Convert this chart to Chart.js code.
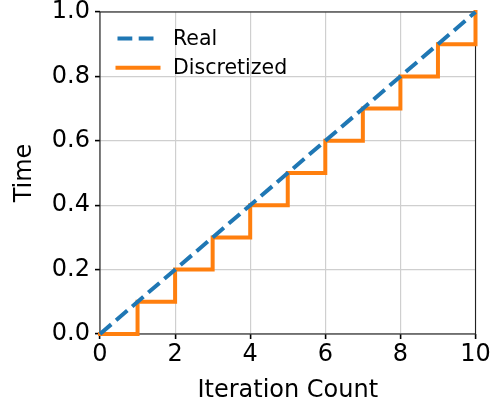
<!DOCTYPE html>
<html><head><meta charset="utf-8">
<script src="https://cdn.jsdelivr.net/npm/chart.js@4.4.0/dist/chart.umd.min.js"></script>
<style>html,body{margin:0;padding:0;background:#fff;overflow:hidden}canvas{display:block}</style>
</head><body><canvas id="c" width="490" height="409"></canvas>
<script>
const realX = [0, 10];
const realY = [0, 1];
const discX = [0, 1, 2, 3, 4, 5, 6, 7, 8, 9, 10];
const discY = [0, 0.1, 0.2, 0.3, 0.4, 0.5, 0.6, 0.7, 0.8, 0.9, 1.0];
const xTicks = [0, 2, 4, 6, 8, 10];
const yTicks = [0, 0.2, 0.4, 0.6, 0.8, 1.0];
const seriesNames = ['Real', 'Discretized'];
const xTitle = 'Iteration Count';
const yTitle = 'Time';

const FONT = 'DejaVu Sans';
const BLUE = '#1f77b4', ORANGE = '#ff7f0e';

const toPts = (xs, ys) => xs.map((x, i) => ({x: x, y: ys[i]}));

const bgPlugin = {
  id: 'bg',
  beforeDraw(chart) {
    const c = chart.ctx;
    c.save(); c.fillStyle = '#fff'; c.fillRect(0, 0, chart.width, chart.height); c.restore();
  }
};

const spinePlugin = {
  id: 'spines',
  beforeDatasetsDraw(chart) {
    const a = chart.chartArea, c = chart.ctx;
    c.save();
    c.strokeStyle = '#222'; c.lineWidth = 1.1;
    c.strokeRect(a.left, a.top, a.right - a.left, a.bottom - a.top);
    c.restore();
  }
};

const legendPlugin = {
  id: 'mplLegend',
  afterDraw(chart) {
    const a = chart.chartArea, c = chart.ctx;
    const rows = [a.top + 26.5, a.top + 55.7];
    c.save();
    chart.data.datasets.forEach((ds, i) => {
      const y = rows[i];
      c.beginPath();
      c.strokeStyle = ds.borderColor;
      c.lineWidth = ds.borderWidth;
      c.setLineDash(ds.borderDash || []);
      c.lineCap = ds.borderDash ? 'butt' : 'square';
      c.moveTo(a.left + 17.5, y);
      c.lineTo(a.left + 58.5, y);
      c.stroke();
      c.setLineDash([]);
      c.fillStyle = '#000';
      c.font = '20.5px "' + FONT + '"';
      c.textAlign = 'left';
      c.textBaseline = 'middle';
      c.fillText(ds.label, a.left + 73, y + 1);
    });
    c.restore();
  }
};

new Chart(document.getElementById('c'), {
  type: 'line',
  data: {
    datasets: [
      {
        label: seriesNames[0],
        data: toPts(realX, realY),
        borderColor: BLUE,
        backgroundColor: BLUE,
        borderWidth: 4,
        borderDash: [14.8, 6.4],
        borderCapStyle: 'butt',
        pointRadius: 0,
        fill: false,
        tension: 0,
        clip: 5
      },
      {
        label: seriesNames[1],
        data: toPts(discX, discY),
        borderColor: ORANGE,
        backgroundColor: ORANGE,
        borderWidth: 4,
        stepped: true,
        borderCapStyle: 'square',
        borderJoinStyle: 'miter',
        pointRadius: 0,
        fill: false,
        clip: 5
      }
    ]
  },
  options: {
    responsive: false,
    devicePixelRatio: 1,
    animation: false,
    events: [],
    layout: {padding: {left: 0, right: 14.5, top: 12, bottom: 0}},
    plugins: {legend: {display: false}, tooltip: {enabled: false}},
    scales: {
      x: {
        type: 'linear',
        min: 0, max: 10,
        afterBuildTicks(s) { s.ticks = xTicks.map(v => ({value: v})); },
        afterFit(s) { s.height = 75; s.paddingLeft = 0; s.paddingRight = 0; s.paddingTop = 0; s.paddingBottom = 0; },
        ticks: {
          color: '#000',
          font: {family: FONT, size: 24, lineHeight: 1},
          padding: 4,
          maxRotation: 0,
          callback: v => String(v)
        },
        grid: {color: '#cfcfcf', lineWidth: 1.2, tickLength: 5, tickColor: '#000', tickWidth: 1.6, drawTicks: true},
        border: {display: false},
        title: {display: true, text: xTitle, color: '#000', font: {family: FONT, size: 24, lineHeight: 1}, padding: {top: 0, bottom: 6}}
      },
      y: {
        type: 'linear',
        min: 0, max: 1,
        afterBuildTicks(s) { s.ticks = yTicks.map(v => ({value: v})); },
        afterFit(s) { s.width = 100; s.paddingLeft = 0; s.paddingRight = 0; s.paddingTop = 0; s.paddingBottom = 0; },
        ticks: {
          color: '#000',
          font: {family: FONT, size: 24, lineHeight: 1},
          padding: 5,
          callback: v => Number(v).toFixed(1)
        },
        grid: {color: '#cfcfcf', lineWidth: 1.2, tickLength: 5, tickColor: '#000', tickWidth: 1.6, drawTicks: true},
        border: {display: false},
        title: {display: true, text: yTitle, color: '#000', font: {family: FONT, size: 24, lineHeight: 1}, padding: {top: 13, bottom: 0}}
      }
    }
  },
  plugins: [bgPlugin, spinePlugin, legendPlugin]
});
</script>
</body></html>
